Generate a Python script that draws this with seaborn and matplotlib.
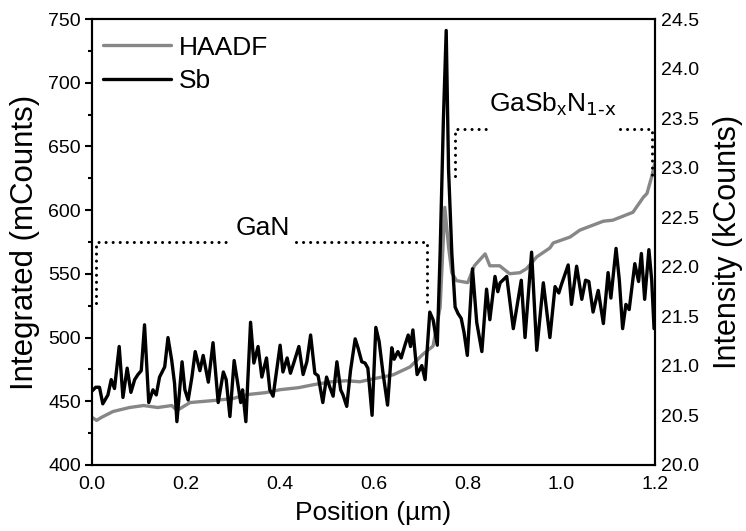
import matplotlib
matplotlib.use("Agg")
import matplotlib.pyplot as plt
import seaborn as sns
import pandas as pd
from matplotlib.ticker import MultipleLocator

# ---------------- data ----------------
sb_x = [0.000, 0.008, 0.016, 0.023, 0.034, 0.041, 0.048, 0.058, 0.066, 0.075,
        0.083, 0.091, 0.098, 0.105, 0.112, 0.121, 0.130, 0.137, 0.144, 0.155,
        0.162, 0.170, 0.176, 0.181, 0.192, 0.198, 0.205, 0.213, 0.220, 0.230,
        0.237, 0.248, 0.258, 0.269, 0.280, 0.286, 0.294, 0.303, 0.312, 0.317,
        0.321, 0.328, 0.338, 0.345, 0.354, 0.362, 0.372, 0.379, 0.386, 0.401,
        0.407, 0.416, 0.423, 0.430, 0.441, 0.450, 0.458, 0.466, 0.475, 0.482,
        0.492, 0.500, 0.507, 0.514, 0.522, 0.530, 0.535, 0.543, 0.551, 0.561,
        0.567, 0.575, 0.582, 0.588, 0.597, 0.605, 0.612, 0.620, 0.630, 0.639,
        0.644, 0.652, 0.659, 0.667, 0.674, 0.679, 0.684, 0.693, 0.703, 0.710,
        0.720, 0.727, 0.736, 0.742, 0.749, 0.755, 0.760, 0.767, 0.774, 0.780,
        0.787, 0.793, 0.800, 0.811, 0.820, 0.831, 0.841, 0.848, 0.859, 0.865,
        0.870, 0.884, 0.898, 0.911, 0.915, 0.923, 0.937, 0.948, 0.962, 0.976,
        0.987, 0.995, 1.000, 1.015, 1.022, 1.033, 1.044, 1.052, 1.059, 1.068,
        1.079, 1.090, 1.100, 1.106, 1.117, 1.124, 1.131, 1.138, 1.145, 1.157,
        1.165, 1.171, 1.178, 1.187, 1.193, 1.198]
sb_y = [458, 461, 461, 448, 455, 467, 460, 493, 453, 476,
        457, 467, 471, 474, 510, 449, 459, 455, 469, 477,
        500, 482, 464, 434, 481, 459, 451, 469, 489, 474,
        486, 465, 496, 449, 473, 467, 438, 482, 461, 449,
        459, 434, 512, 480, 493, 469, 484, 459, 454, 494,
        473, 484, 472, 480, 493, 471, 481, 502, 472, 470,
        449, 469, 461, 454, 481, 459, 455, 446, 474, 499,
        492, 481, 480, 476, 439, 508, 497, 473, 447, 492,
        483, 489, 484, 494, 502, 493, 506, 471, 478, 467,
        520, 514, 494, 566, 671, 741, 632, 566, 524, 519,
        515, 504, 486, 554, 512, 489, 538, 514, 548, 536,
        543, 548, 507, 536, 545, 500, 567, 490, 543, 500,
        540, 535, 541, 557, 526, 556, 530, 545, 544, 520,
        537, 511, 551, 531, 570, 545, 507, 526, 522, 558,
        544, 566, 530, 569, 545, 507]

haadf_x = [0.000, 0.010, 0.020, 0.045, 0.080, 0.110, 0.140, 0.170, 0.181, 0.209,
           0.258, 0.300, 0.330, 0.370, 0.401, 0.440, 0.472, 0.510, 0.543, 0.571,
           0.600, 0.642, 0.678, 0.706, 0.727, 0.742, 0.752, 0.760, 0.767, 0.777,
           0.801, 0.815, 0.838, 0.848, 0.869, 0.890, 0.912, 0.926, 0.948, 0.976,
           0.983, 1.019, 1.040, 1.090, 1.110, 1.153, 1.175, 1.183, 1.193, 1.200]
haadf_y = [20.48, 20.45, 20.48, 20.54, 20.58, 20.60, 20.58, 20.60, 20.55, 20.63,
           20.65, 20.67, 20.71, 20.73, 20.76, 20.78, 20.81, 20.84, 20.85, 20.84,
           20.87, 20.91, 20.99, 21.12, 21.20, 21.59, 22.60, 22.20, 21.94, 21.86,
           21.84, 22.01, 22.13, 22.01, 22.01, 21.93, 21.94, 21.98, 22.10, 22.19,
           22.24, 22.30, 22.37, 22.46, 22.47, 22.55, 22.70, 22.74, 22.91, 23.05]

x_ticks = [0.0, 0.2, 0.4, 0.6, 0.8, 1.0, 1.2]
left_ticks = [400, 450, 500, 550, 600, 650, 700, 750]
right_ticks = [20.0, 20.5, 21.0, 21.5, 22.0, 22.5, 23.0, 23.5, 24.0, 24.5]

# annotation brackets (x in um, y in mCounts)
gan_bracket_x = [0.009, 0.009, 0.295, None, 0.435, 0.714, 0.714]
gan_bracket_y = [527, 575, 575, None, 575, 575, 527]
gasb_bracket_x = [0.774, 0.774, 0.842, None, 1.125, 1.193, 1.193]
gasb_bracket_y = [627, 664, 664, None, 664, 664, 627]

# ---------------- style ----------------
sns.set_theme(style="ticks")
plt.rcParams["font.family"] = ["Liberation Sans", "DejaVu Sans"]
plt.rcParams["mathtext.default"] = "regular"
plt.rcParams["axes.linewidth"] = 1.5
for k in ("text.color", "axes.labelcolor", "xtick.color", "ytick.color",
          "axes.edgecolor"):
    plt.rcParams[k] = "black"

fig = plt.figure(figsize=(7.46, 5.31), dpi=100)
ax = fig.add_axes([0.1233, 0.1243, 0.7547, 0.8399])
ax2 = ax.twinx()

df_sb = pd.DataFrame({"x": sb_x, "y": sb_y})
df_h = pd.DataFrame({"x": haadf_x, "y": haadf_y})

sns.lineplot(data=df_h, x="x", y="y", ax=ax2, color="#878787", lw=2.4,
             label="HAADF", legend=False, sort=False)
sns.lineplot(data=df_sb, x="x", y="y", ax=ax, color="black", lw=2.4,
             label="Sb", legend=False, sort=False)

ax.set_zorder(ax2.get_zorder() + 1)
ax.patch.set_visible(False)


def seg(xs, ys):
    out = []
    cx, cy = [], []
    for a, b in zip(xs, ys):
        if a is None:
            out.append((cx, cy))
            cx, cy = [], []
        else:
            cx.append(a)
            cy.append(b)
    out.append((cx, cy))
    return out


for xs, ys in seg(gan_bracket_x, gan_bracket_y) + seg(gasb_bracket_x, gasb_bracket_y):
    ax.plot(xs, ys, color="black", lw=2.2, linestyle=(0, (0.01, 2.3)),
            dash_capstyle="round")

ax.text(0.365, 586, "GaN", fontsize=19, ha="center", va="center")
ax.text(0.983, 683, r"GaSb$_{x}$N$_{\text{1-x}}$", fontsize=19,
        ha="center", va="center")

ax.set_xlim(0, 1.2)
ax.set_ylim(400, 750)
ax2.set_ylim(20.0, 24.5)
ax.set_xticks(x_ticks)
ax.set_xticklabels([f"{v:.1f}" for v in x_ticks])
ax.set_yticks(left_ticks)
ax.yaxis.set_minor_locator(MultipleLocator(25))
ax2.set_yticks(right_ticks)
ax2.set_yticklabels([f"{v:.1f}" for v in right_ticks])

ax.tick_params(axis="x", length=0, pad=8, labelsize=14)
ax.tick_params(axis="y", which="major", direction="out", length=5, width=1.5,
               pad=3, labelsize=14)
ax.tick_params(axis="y", which="minor", direction="out", length=3, width=1.5)
ax2.tick_params(axis="y", length=0, pad=4, labelsize=14)

for a in (ax, ax2):
    for s in a.spines.values():
        s.set_linewidth(1.5)
        s.set_color("black")
        s.set_visible(True)

ax.set_xlabel("Position (µm)", fontsize=19, labelpad=6)
ax.set_ylabel("Integrated (mCounts)", fontsize=22.5, labelpad=6)
ax2.set_ylabel("Intensity (kCounts)", fontsize=22, labelpad=10)

h1 = ax2.get_lines()[0]
h2 = ax.get_lines()[0]
leg = ax.legend([h1, h2], ["HAADF", "Sb"], loc="upper left",
                bbox_to_anchor=(0.019, 0.963), frameon=False, fontsize=19,
                handlelength=2.6, handletextpad=0.3, labelspacing=0.36,
                borderpad=0.0, borderaxespad=0.0)

fig.savefig("out.png", dpi=100)
